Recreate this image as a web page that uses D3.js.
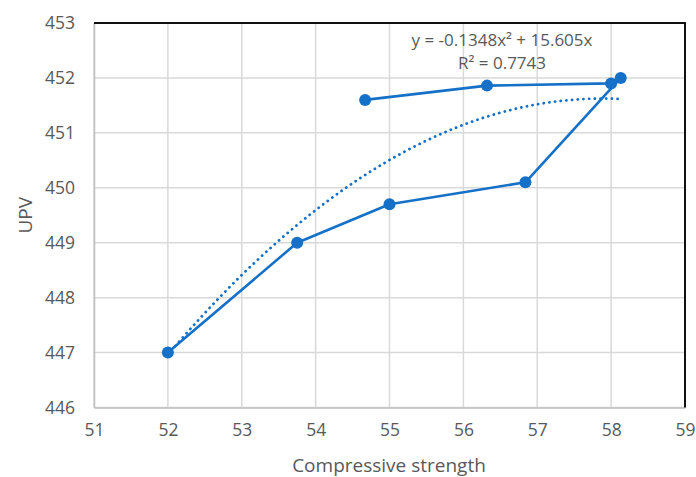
<!DOCTYPE html>
<html><head><meta charset="utf-8">
<script src="https://cdn.jsdelivr.net/npm/d3@7/dist/d3.min.js"></script>
<style>body{margin:0;background:#fff}svg{display:block}</style>
</head><body>
<svg id="c" width="696" height="477"></svg>
<script>
const strength = [52, 53.75, 55, 56.84, 58.13, 58.0, 56.32, 54.67];
const upv = [447, 449, 449.7, 450.1, 452, 451.9, 451.86, 451.6];
const xTicks = [51, 52, 53, 54, 55, 56, 57, 58, 59];
const yTicks = [446, 447, 448, 449, 450, 451, 452, 453];
const trendCoef = [-0.1348, 15.605];
const trendRange = [52, 58.1];
const eqLines = ["y = -0.1348x\u00b2 + 15.605x", "R\u00b2 = 0.7743"];

const svg = d3.select("#c");
const font = "'Open Sans', 'Noto Sans', sans-serif";
const x = d3.scaleLinear().domain([51, 59]).range([94, 685]);
const y = d3.scaleLinear().domain([446, 453]).range([407.5, 23]);
const blue = "#1570c8";

// gridlines
svg.append("g").selectAll("line.v").data(xTicks).join("line")
  .attr("x1", d => x(d)).attr("x2", d => x(d)).attr("y1", y(453)).attr("y2", y(446))
  .attr("stroke", "#d9d9d9").attr("stroke-width", 1.5);
svg.append("g").selectAll("line.h").data(yTicks).join("line")
  .attr("x1", x(51)).attr("x2", x(59)).attr("y1", d => y(d)).attr("y2", d => y(d))
  .attr("stroke", "#d9d9d9").attr("stroke-width", 1.5);

// axes
const xAxis = svg.append("g").attr("transform", `translate(0,${y(446)})`)
  .call(d3.axisBottom(x).tickValues(xTicks).tickSize(0).tickPadding(16).tickFormat(d3.format("d")));
const yAxis = svg.append("g").attr("transform", `translate(${x(51)},0)`)
  .call(d3.axisLeft(y).tickValues(yTicks).tickSize(0).tickPadding(19).tickFormat(d3.format("d")));
[xAxis, yAxis].forEach(a => {
  a.select(".domain").attr("stroke", "#bfbfbf").attr("stroke-width", 1.5);
  a.selectAll("text").attr("fill", "#595959").style("font-family", font).style("font-size", "17.5px");
});

// top & right border
svg.append("path")
  .attr("d", `M${x(51)},${y(453)}H${x(59)}V${y(446)}`)
  .attr("fill", "none").attr("stroke", "#111").attr("stroke-width", 2);

// trendline
const tx = d3.range(trendRange[0], trendRange[1] + 0.001, 0.05);
const trend = d3.line().x(d => x(d)).y(d => y(trendCoef[0] * d * d + trendCoef[1] * d));
svg.append("path").datum(tx).attr("d", trend)
  .attr("fill", "none").attr("stroke", blue).attr("stroke-width", 2.8)
  .attr("stroke-dasharray", "0.1 5.6").attr("stroke-linecap", "round");

// data line
const pts = strength.map((s, i) => [s, upv[i]]);
svg.append("path").datum(pts)
  .attr("d", d3.line().x(d => x(d[0])).y(d => y(d[1])))
  .attr("fill", "none").attr("stroke", blue).attr("stroke-width", 2.6).attr("stroke-linejoin", "round");
svg.append("g").selectAll("circle").data(pts).join("circle")
  .attr("cx", d => x(d[0])).attr("cy", d => y(d[1])).attr("r", 6).attr("fill", blue);

// equation
svg.append("g").selectAll("text").data(eqLines).join("text")
  .attr("x", 502).attr("y", (d, i) => 46 + i * 22.5).attr("text-anchor", "middle")
  .attr("fill", "#595959").style("font-family", font).style("font-size", "17px").text(d => d);

// axis titles
svg.append("text").attr("x", 389).attr("y", 472).attr("text-anchor", "middle")
  .attr("fill", "#595959").style("font-family", font).style("font-size", "19px").text("Compressive strength");
svg.append("text").attr("transform", `translate(32,${(y(446) + y(453)) / 2}) rotate(-90)`)
  .attr("text-anchor", "middle").attr("fill", "#595959")
  .style("font-family", font).style("font-size", "19px").text("UPV");
</script>
</body></html>
